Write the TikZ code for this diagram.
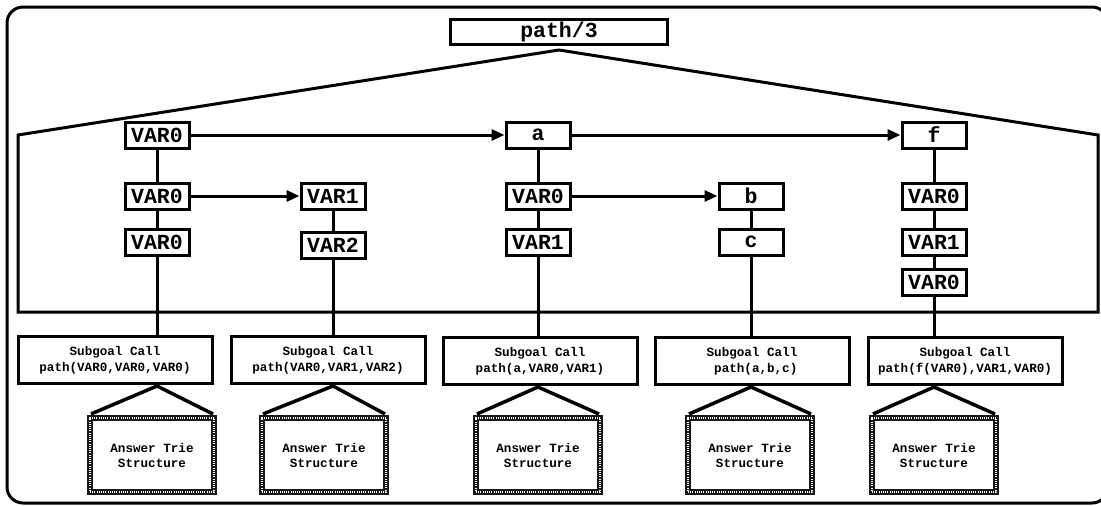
\documentclass[tikz,border=0pt]{standalone}
\usepackage{fontspec}
\newfontfamily\trimono{Liberation Mono}
\usetikzlibrary{arrows.meta,calc}
\begin{document}
\begin{tikzpicture}[x=1pt,y=-1pt,
  lbl/.style={draw, line width=3pt, fill=white, inner sep=0pt,
    minimum width=64pt, minimum height=26pt,
    font=\trimono\bfseries\fontsize{21.5}{24}\selectfont},
  rootbox/.style={lbl, minimum width=217pt, minimum height=25pt},
  conn/.style={line width=3pt},
  arr/.style={conn, -{Triangle[length=13pt,width=11pt]}},
  sgbox/.style={draw, line width=3pt, fill=white, inner sep=0pt,
    minimum width=194pt, minimum height=47pt, align=center,
    font=\trimono\bfseries\fontsize{12.6}{16}\selectfont},
  ansbox/.style={draw=black!90, line width=6pt, fill=white, inner sep=0pt,
    minimum width=124pt, minimum height=74pt, align=center,
    font=\trimono\bfseries\fontsize{12.6}{15}\selectfont,
    postaction={draw=white, line width=1.2pt, dash pattern=on 1pt off 1.2pt}},
  leg/.style={line width=3.5pt}
]
\useasboundingbox (0,0) rectangle (1101,506);

% frame
\draw[line width=3pt, rounded corners=16pt] (7,7) rectangle (1108,503);

% root and the subgoal trie outline
\node[rootbox] (root) at (559,32) {path/3};
\coordinate (apex) at ($(root.south)+(0,4)$);
\coordinate (tl) at (18,135);
\coordinate (tr) at (1098,135);
\coordinate (br) at (1098,312);
\coordinate (bl) at (18,312);
\draw[line width=3pt, line join=miter] (tl) -- (apex) -- (tr) -- (br) -- (bl) -- cycle;

% trie nodes
\node[lbl] (v1a) at (157,135) {VAR0};
\node[lbl] (v1b) at (157,196) {VAR0};
\node[lbl] (v1c) at (157,242) {VAR0};
\node[lbl] (v2a) at (333,196) {VAR1};
\node[lbl] (v2b) at (333,245) {VAR2};
\node[lbl] (na)  at (538,135) {a};
\node[lbl] (v3a) at (538,196) {VAR0};
\node[lbl] (v3b) at (538,242) {VAR1};
\node[lbl] (nb)  at (751,196) {b};
\node[lbl] (nc)  at (751,242) {c};
\node[lbl] (nf)  at (934,135) {f};
\node[lbl] (v5a) at (934,196) {VAR0};
\node[lbl] (v5b) at (934,242) {VAR1};
\node[lbl] (v5c) at (934,282) {VAR0};

% subgoal frames
\node[sgbox] (sg1) at (115,360) {Subgoal Call\\path(VAR0,VAR0,VAR0)};
\node[sgbox] (sg2) at (328,360) {Subgoal Call\\path(VAR0,VAR1,VAR2)};
\node[sgbox] (sg3) at (540,361) {Subgoal Call\\path(a,VAR0,VAR1)};
\node[sgbox] (sg4) at (752,361) {Subgoal Call\\\ path(a,b,c)};
\node[sgbox] (sg5) at (965,361) {Subgoal Call\\path(f(VAR0),VAR1,VAR0)};

% sibling arrows
\draw[arr] (v1a.east) -- (na.west);
\draw[arr] (na.east) -- (nf.west);
\draw[arr] (v1b.east) -- (v2a.west);
\draw[arr] (v3a.east) -- (nb.west);

% child links
\draw[conn] (v1a) -- (v1b);
\draw[conn] (v1b) -- (v1c);
\draw[conn] (v2a) -- (v2b);
\draw[conn] (na) -- (v3a);
\draw[conn] (v3a) -- (v3b);
\draw[conn] (nb) -- (nc);
\draw[conn] (nf) -- (v5a);
\draw[conn] (v5a) -- (v5b);
\draw[conn] (v5b) -- (v5c);

% leaves to subgoal frames
\draw[conn] (v1c.south) -- (v1c.south |- sg1.north);
\draw[conn] (v2b.south) -- (v2b.south |- sg2.north);
\draw[conn] (v3b.south) -- (v3b.south |- sg3.north);
\draw[conn] (nc.south) -- (nc.south |- sg4.north);
\draw[conn] (v5c.south) -- (v5c.south |- sg5.north);

% answer tries
\node[ansbox] (at1) at (152,455) {Answer Trie\\Structure};
\node[ansbox] (at2) at (324,455) {Answer Trie\\Structure};
\node[ansbox] (at3) at (538,455) {Answer Trie\\Structure};
\node[ansbox] (at4) at (750,455) {Answer Trie\\Structure};
\node[ansbox] (at5) at (934,455) {Answer Trie\\Structure};

\foreach \s/\a/\c in {sg1/at1/v1c, sg2/at2/v2b, sg3/at3/v3b, sg4/at4/nc, sg5/at5/v5c} {
  \coordinate (tip) at ($(\c.south |- \s.south)+(0,1)$);
  \draw[leg] ($(\a.north west)+(4,-1)$) -- (tip) -- ($(\a.north east)+(-4,-1)$);
}
\end{tikzpicture}
\end{document}
